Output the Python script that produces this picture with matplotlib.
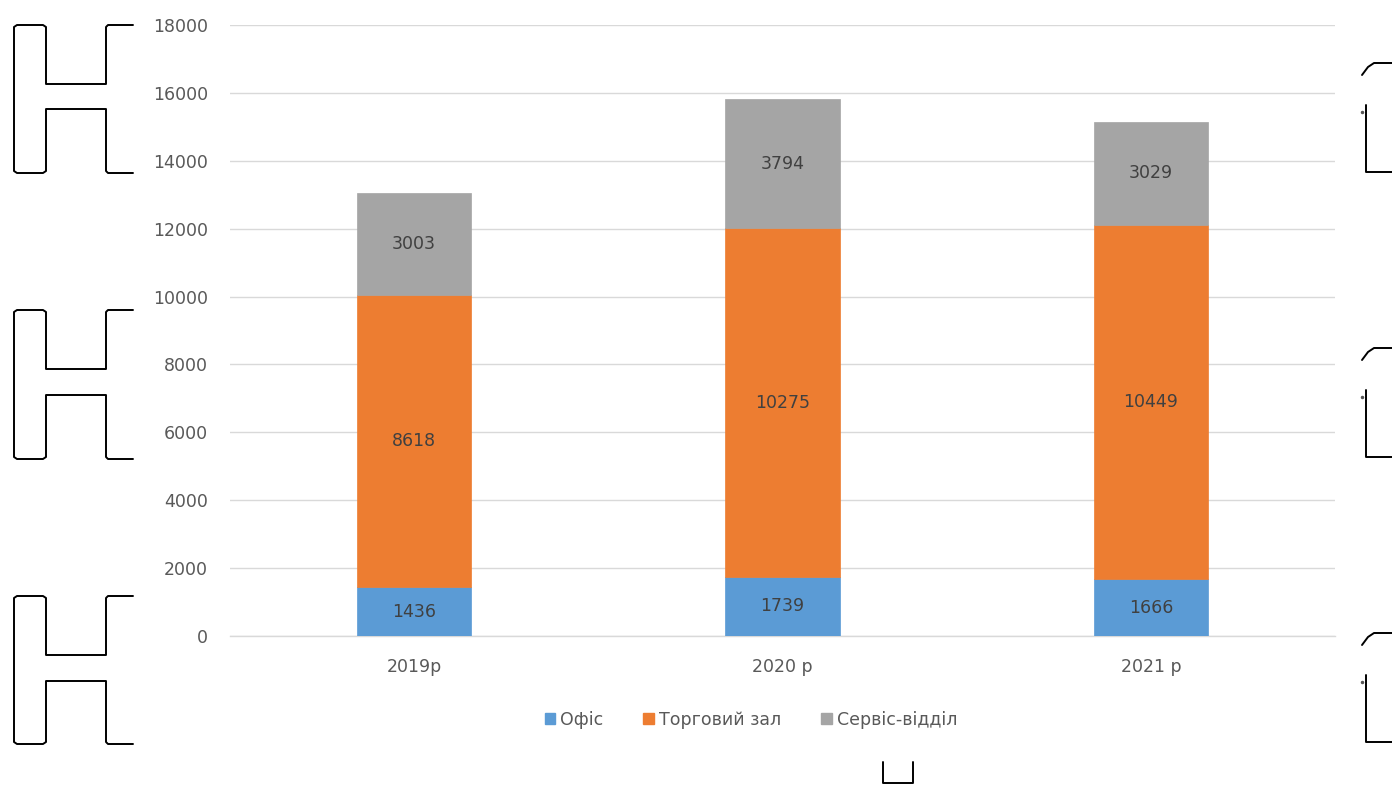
import numpy as np
import matplotlib.pyplot as plt
from matplotlib.lines import Line2D
from matplotlib.patches import Patch

plt.rcParams['font.family'] = ['DejaVu Sans']

years = ['2019р', '2020 р', '2021 р']
office = [1436, 1739, 1666]
sales_floor = [8618, 10275, 10449]
service = [3003, 3794, 3029]
series_names = ['Офіс', 'Торговий зал', 'Сервіс-відділ']
colors = ['#5B9BD5', '#ED7D31', '#A5A5A5']

W, H = 1392, 785
fig = plt.figure(figsize=(W / 100, H / 100), dpi=100)
ax = fig.add_axes([230 / W, 1 - 636 / H, 1105 / W, 611 / H])

x = np.arange(len(years))
bottom = np.zeros(len(years))
for vals, name, col in zip([office, sales_floor, service], series_names, colors):
    bars = ax.bar(x, vals, 0.31, bottom=bottom, color=col, label=name,
                  edgecolor=col, linewidth=0.5, zorder=3)
    for b, v, btm in zip(bars, vals, bottom):
        ax.text(b.get_x() + b.get_width() / 2, btm + v / 2, str(v),
                ha='center', va='center', fontsize=12.5, color='#404040', zorder=4)
    bottom += np.array(vals)

ax.set_xlim(-0.5, 2.5)
ax.set_ylim(0, 18000)
ax.set_yticks(np.arange(0, 18001, 2000))
ax.set_xticks(x)
ax.set_xticklabels(years)
ax.yaxis.grid(True, color='#D9D9D9', linewidth=1, zorder=0)
ax.axhline(0, color='#D9D9D9', linewidth=1, zorder=1, clip_on=False)
ax.tick_params(axis='both', length=0, labelsize=12.5, labelcolor='#595959')
ax.tick_params(axis='y', pad=16)
ax.tick_params(axis='x', pad=16)
for s in ax.spines.values():
    s.set_visible(False)

handles = [Patch(color=c, label=n) for c, n in zip(colors, series_names)]
fig.legend(handles=handles, loc='center', bbox_to_anchor=(751 / W, 1 - 720 / H),
           ncol=3, frameon=False, fontsize=12.5, handlelength=0.6, handleheight=0.6,
           handletextpad=0.3, columnspacing=2.3, labelcolor='#595959')


# bracket outlines along the page edges, given in pixel coordinates from the top-left
def outline(pts):
    xs = [p[0] / W for p in pts]
    ys = [1 - p[1] / H for p in pts]
    fig.add_artist(Line2D(xs, ys, color='black', linewidth=1.4,
                          solid_joinstyle='round', solid_capstyle='round'))


for top, mid1, mid2, bot in [(25, 84, 109, 173), (310, 369, 395, 459), (596, 655, 681, 744)]:
    outline([(133, top), (108, top), (106, top + 2), (106, mid1), (46, mid1),
             (46, top + 2), (43, top), (17, top), (14, top + 2),
             (14, bot - 2), (17, bot), (43, bot), (46, bot - 2),
             (46, mid2), (106, mid2), (106, bot - 2), (108, bot), (133, bot)])

for top in [63, 348, 633]:
    outline([(1362, top + 12), (1368, top + 4), (1374, top), (1392, top)])
    outline([(1366, top + 42), (1366, top + 109), (1392, top + 109)])
    fig.add_artist(Line2D([1362 / W], [1 - (top + 49) / H], marker='o',
                          markersize=1.5, color='#555555'))

outline([(883, 762), (883, 783), (913, 783), (913, 762)])

fig.savefig('out.png', dpi=100, facecolor='white')
